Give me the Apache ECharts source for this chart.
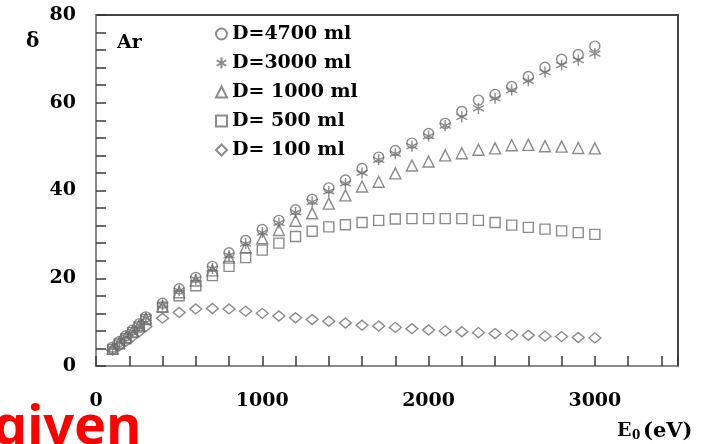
<!DOCTYPE html>
<html>
<head>
<meta charset="utf-8">
<script src="https://cdn.jsdelivr.net/npm/echarts@6/dist/echarts.min.js"></script>
<style>
html,body{margin:0;padding:0;background:#fff;}
#chart{width:702px;height:444px;}
</style>
</head>
<body>
<div id="chart"></div>
<script>
// Primary energy E0 (eV)
const energies = [100, 140, 180, 220, 260, 300, 400, 500, 600, 700, 800, 900, 1000, 1100, 1200, 1300, 1400, 1500, 1600, 1700, 1800, 1900, 2000, 2100, 2200, 2300, 2400, 2500, 2600, 2700, 2800, 2900, 3000];
// delta for each chamber size
const d4700 = [4.3, 5.6, 6.9, 8.2, 9.6, 11.2, 14.3, 17.6, 20.2, 22.7, 25.8, 28.6, 31.1, 33.2, 35.6, 38.0, 40.6, 42.4, 45.0, 47.6, 49.1, 50.8, 53.0, 55.3, 58.0, 60.6, 61.9, 63.7, 66.0, 68.1, 69.9, 71.0, 72.9];
const d3000 = [4.0, 5.3, 6.6, 7.9, 9.3, 10.9, 13.9, 17.2, 19.8, 22.2, 25.2, 27.9, 30.4, 32.6, 35.0, 37.4, 39.8, 41.6, 44.0, 47.0, 48.4, 50.1, 52.4, 54.8, 56.8, 58.7, 61.0, 62.9, 65.0, 67.0, 68.6, 69.7, 71.2];
const d1000 = [4.0, 5.3, 6.6, 7.9, 9.3, 10.8, 13.6, 16.8, 19.5, 21.8, 24.7, 27.0, 29.1, 31.0, 33.1, 34.8, 37.0, 38.9, 40.9, 42.0, 43.9, 45.7, 46.6, 48.0, 48.5, 49.3, 49.6, 50.3, 50.4, 50.1, 50.0, 49.7, 49.6];
const d500 = [3.8, 5.0, 6.2, 7.6, 8.9, 10.6, 13.4, 16.0, 18.3, 20.6, 22.7, 24.7, 26.4, 28.0, 29.5, 30.7, 31.7, 32.2, 32.7, 33.2, 33.5, 33.6, 33.6, 33.6, 33.6, 33.2, 32.7, 32.1, 31.6, 31.2, 30.8, 30.4, 30.0];
const d100 = [3.6, 4.6, 5.6, 6.7, 7.8, 9.0, 10.9, 12.2, 13.0, 13.1, 13.0, 12.5, 12.0, 11.4, 11.0, 10.6, 10.2, 9.8, 9.3, 9.1, 8.8, 8.5, 8.2, 8.0, 7.8, 7.6, 7.4, 7.1, 7.0, 6.8, 6.7, 6.5, 6.4];
const seriesNames = ['D=4700 ml', 'D=3000 ml', 'D= 1000 ml', 'D= 500 ml', 'D= 100 ml'];
const xTickLabels = [0, 1000, 2000, 3000];
const yTickLabels = [0, 20, 40, 60, 80];

const GRAY = '#6e6e6e';
const SERIF = 'DejaVu Serif';
const starPath = 'path://M5,0 L5,10 M0.67,2.5 L9.33,7.5 M0.67,7.5 L9.33,2.5';

function pairs(arr) { return energies.map(function (e, i) { return [e, arr[i]]; }); }
function mk(name, arr, symbol, size) {
  return {
    name: name, type: 'scatter', data: pairs(arr), symbol: symbol, symbolSize: size,
    itemStyle: { color: 'rgba(0,0,0,0)', borderColor: GRAY, borderWidth: 1.4 },
    emphasis: { disabled: true }
  };
}

const chart = echarts.init(document.getElementById('chart'));

chart.setOption({
  animation: false,
  grid: { left: 96, right: 24, top: 15, bottom: 78, show: true, borderColor: '#444', borderWidth: 2 },
  legend: {
    orient: 'vertical', left: 210, top: 19, itemWidth: 11, itemHeight: 11, itemGap: 9,
    textStyle: { fontFamily: SERIF, fontWeight: 'bold', fontSize: 19, color: '#000', lineHeight: 20 },
    data: seriesNames
  },
  xAxis: [
    { type: 'value', min: 0, max: 3500, interval: 200, position: 'bottom', offset: 6,
      axisLine: { show: false },
      axisTick: { show: true, inside: true, length: 10, lineStyle: { color: '#3a3a3a', width: 1.5 } },
      axisLabel: { color: '#000000', fontFamily: SERIF, fontWeight: 'bold', fontSize: 19, margin: 10, padding: [10, 0, 0, 0],
        formatter: function (v) { return xTickLabels.indexOf(v) >= 0 ? String(v) : ''; } },
      splitLine: { show: false } },
    { type: 'value', min: 0, max: 3500, position: 'top',
      axisLine: { show: true, lineStyle: { color: '#8a8a8a', width: 2 } },
      axisTick: { show: false }, axisLabel: { show: false }, splitLine: { show: false } }
  ],
  yAxis: [
    { type: 'value', min: 0, max: 80, interval: 4, position: 'left', offset: 6,
      axisLine: { show: false },
      axisTick: { show: true, inside: true, length: 10, lineStyle: { color: '#3a3a3a', width: 1.5 } },
      axisLabel: { color: '#000000', fontFamily: SERIF, fontWeight: 'bold', fontSize: 19, margin: 14,
        formatter: function (v) { return yTickLabels.indexOf(v) >= 0 ? String(v) : ''; } },
      splitLine: { show: false } },
    { type: 'value', min: 0, max: 80, position: 'right',
      axisLine: { show: true, lineStyle: { color: '#8a8a8a', width: 2 } },
      axisTick: { show: false }, axisLabel: { show: false }, splitLine: { show: false } }
  ],
  series: [
    mk(seriesNames[0], d4700, 'circle', 10),
    mk(seriesNames[1], d3000, starPath, 11),
    mk(seriesNames[2], d1000, 'triangle', 11),
    mk(seriesNames[3], d500, 'rect', 10),
    mk(seriesNames[4], d100, 'diamond', [12, 10])
  ],
  graphic: [
    { type: 'text', left: 26, top: 32, style: { text: 'δ', fontFamily: SERIF, fontWeight: 'bold', fontSize: 20, fill: '#000' } },
    { type: 'text', left: 117, top: 34, style: { text: 'Ar', fontFamily: SERIF, fontWeight: 'bold', fontSize: 19, fill: '#000' } },
    { type: 'text', left: 617, top: 422, style: { text: 'E', fontFamily: SERIF, fontWeight: 'bold', fontSize: 19, fill: '#000' } },
    { type: 'text', left: 632, top: 430, style: { text: '0', fontFamily: SERIF, fontWeight: 'bold', fontSize: 12, fill: '#000' } },
    { type: 'text', left: 643, top: 421, style: { text: '(eV)', fontFamily: SERIF, fontWeight: 'bold', fontSize: 21, fill: '#000' } },
    { type: 'text', left: -7, top: 402, style: { text: 'given', fontFamily: 'Noto Sans', fontWeight: 'bold', fontSize: 54, fill: '#ff0000' } }
  ]
});
</script>
</body>
</html>
